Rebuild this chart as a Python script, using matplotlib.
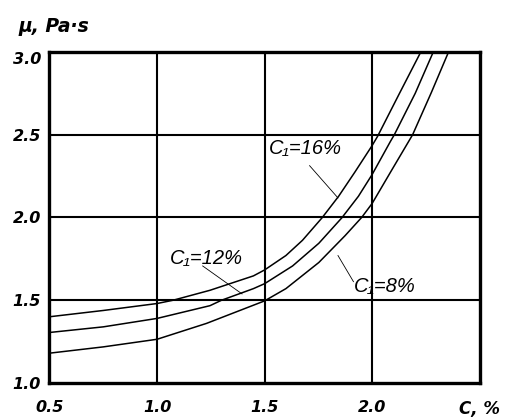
import matplotlib.pyplot as plt

plt.rcParams['font.family'] = ['Liberation Sans', 'DejaVu Sans']

# values (C, % -> mu, Pa*s)
c16_x = [0.5, 0.75, 1.0, 1.075, 1.246, 1.448, 1.5, 1.599, 1.676, 1.767, 1.844,
         1.92, 2.0, 2.025, 2.125, 2.226]
c16_y = [1.40, 1.438, 1.48, 1.50, 1.56, 1.647, 1.683, 1.77, 1.862, 1.998, 2.128,
         2.275, 2.435, 2.49, 2.745, 3.0]

c12_x = [0.5, 0.75, 1.0, 1.246, 1.30, 1.448, 1.5, 1.63, 1.752, 1.859, 1.936,
         2.0, 2.085, 2.103, 2.20, 2.284]
c12_y = [1.305, 1.339, 1.39, 1.467, 1.5, 1.57, 1.60, 1.707, 1.844, 1.998, 2.128,
         2.26, 2.46, 2.5, 2.75, 3.0]

c8_x = [0.5, 0.75, 1.0, 1.23, 1.5, 1.599, 1.752, 1.874, 1.951, 2.0, 2.088,
        2.188, 2.275, 2.355]
c8_y = [1.18, 1.218, 1.264, 1.36, 1.496, 1.57, 1.728, 1.89, 2.0, 2.085, 2.28,
        2.5, 2.755, 3.0]

x_ticks = [0.5, 1.0, 1.5, 2.0]
x_labels = ['0.5', '1.0', '1.5', '2.0']
y_ticks = [1.0, 1.5, 2.0, 2.5, 3.0]
y_labels = ['1.0', '1.5', '2.0', '2.5', '3.0']

fig = plt.figure(figsize=(5.05, 4.19), dpi=100)
ax = fig.add_axes([0.098, 0.086, 0.852, 0.790])

# grid lines
for gx in [1.0, 1.5, 2.0]:
    ax.axvline(gx, color='black', lw=1.5, zorder=1)
for gy in [1.5, 2.0, 2.5]:
    ax.axhline(gy, color='black', lw=1.5, zorder=1)

for xs, ys in [(c16_x, c16_y), (c12_x, c12_y), (c8_x, c8_y)]:
    ax.plot(xs, ys, color='black', lw=1.1, zorder=2, solid_joinstyle='round')

ax.set_xlim(0.5, 2.5)
ax.set_ylim(1.0, 3.0)
for s in ax.spines.values():
    s.set_linewidth(2.4)

tick_font = dict(family='DejaVu Sans', size=11.5, weight='bold', style='italic')
ax.set_xticks(x_ticks)
ax.set_xticklabels(x_labels, fontdict=tick_font)
ax.set_yticks(y_ticks)
ax.set_yticklabels(y_labels, fontdict=tick_font)
ax.tick_params(axis='x', length=0, pad=12)
ax.tick_params(axis='y', length=0, pad=6)
ax.get_yticklabels()[-1].set_verticalalignment('top')

# axis titles
fig.text(0.036, 0.936, 'μ, Pa·s', fontdict=dict(tick_font, size=13.5),
         ha='left', va='center')
ax.text(2.5, -0.078, 'C, %', fontdict=dict(tick_font, size=12), ha='center',
        va='center', transform=ax.get_xaxis_transform(), clip_on=False)

# curve labels with leader lines
lab = dict(fontsize=14.5, fontstyle='italic', va='center', ha='left')
ax.text(1.522, 2.415, 'C\u2081=16%', **lab)
ax.plot([1.709, 1.841], [2.313, 2.118], color='black', lw=0.6)
ax.text(1.06, 1.753, 'C\u2081=12%', **lab)
ax.plot([1.212, 1.395], [1.707, 1.538], color='black', lw=0.6)
ax.text(1.914, 1.582, 'C\u2081=8%', **lab)
ax.plot([1.841, 1.913], [1.770, 1.612], color='black', lw=0.6)

fig.savefig('out.png', dpi=100)
